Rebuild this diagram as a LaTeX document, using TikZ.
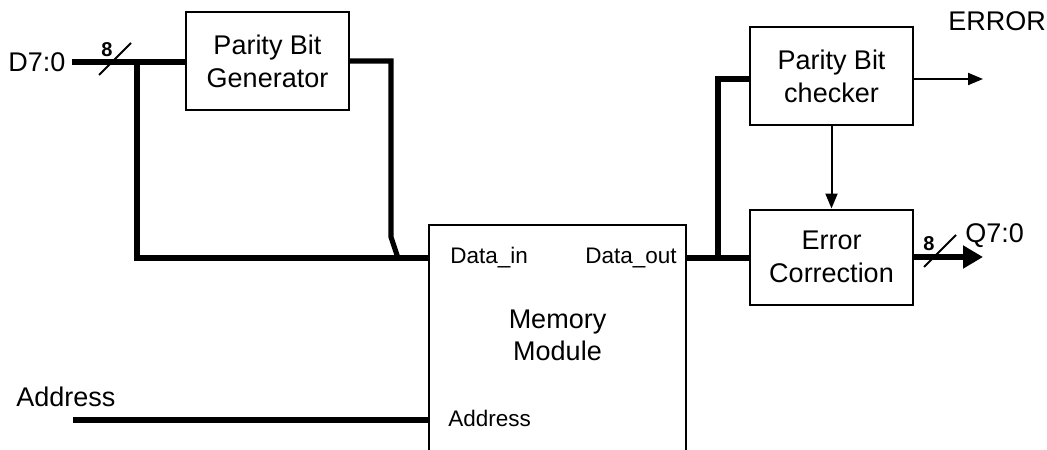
\documentclass[tikz,border=0pt]{standalone}
\usepackage{fontspec}
\setmainfont{Liberation Sans}
\usetikzlibrary{
  arrows.meta,
  positioning,
  calc
}
\tikzset{
  blk/.style={
    draw, line width=1pt, minimum width=81.5pt, minimum height=49pt,
    align=center, font=\fontsize{13.5}{16.5}\selectfont
  },
  membox/.style={draw, line width=1pt, minimum width=128.5pt, minimum height=125pt},
  bus/.style={line width=2.6pt},
  sig/.style={line width=1pt},
  busout/.style={bus, -{Triangle[length=10pt, width=11pt]}},
  sigout/.style={sig, -{Triangle[length=7.5pt, width=6pt]}},
  portlbl/.style={font=\fontsize{11.25}{13}\selectfont, inner sep=0pt},
  extlbl/.style={font=\fontsize{13.5}{16}\selectfont, inner sep=0pt},
  widthlbl/.style={font=\fontsize{10}{11}\selectfont\bfseries, inner sep=0pt}
}

\begin{document}
\begin{tikzpicture}[x=0.5pt, y=-0.5pt]
  \clip (0,0) rectangle (1047,449);
  % blocks
  \node[blk] (gen) at (267.5,61) {Parity Bit\\Generator};
  \node[membox] (mem) at (557.5,350) {};
  \node[extlbl, align=center] (memlbl) at ($(mem.north)+(0,111)$) {Memory\\Module};
  \node[blk] (chk) at (831.5,76) {Parity Bit\\checker};
  \node[blk, minimum height=47.5pt] (ecc) at (831.5,257) {Error\\Correction};
  % ports
  \coordinate (memin) at (429,258);
  \coordinate (memout) at (686,258);
  \coordinate (memadr) at (429,420);
  \node[portlbl, anchor=west] (pin) at (450,258) {Data\_in};
  \node[portlbl, anchor=east] (pout) at (677,258) {Data\_out};
  \node[portlbl, anchor=west] (padr) at (448,418) {Address};
  % outside signals
  \node[extlbl, anchor=west] (dlbl) at (8,62) {D7:0};
  \coordinate (dstart) at (72,62);
  \node[extlbl, anchor=west] (albl) at (16,397) {Address};
  \coordinate (astart) at (73,420);
  \coordinate (errend) at (983,79);
  \node[extlbl, anchor=west] (errlbl) at (948,21) {ERROR};
  \coordinate (qend) at (983,257);
  \node[extlbl, anchor=west] (qlbl) at (965,236) {Q7:0};

  % data in
  \draw[bus] (dstart) -- (gen.west |- dstart);
  \draw[bus] (137,62) -- (137,258) -- (memin);
  \draw[bus] (gen.east |- 0,61) -- (391,61) -- (391,237) -- (398,258);
  \draw[bus] (astart) -- (memadr);
  % data out
  \draw[bus] (memout) -- (ecc.west |- memout);
  \draw[bus] (718,258) -- (718,79) -- (chk.west |- 0,79);
  \draw[sigout] (chk.south) -- (ecc.north);
  \draw[sigout] (chk.east |- errend) -- (errend);
  \draw[busout] (ecc.east |- qend) -- (qend);

  % bus width marks
  \coordinate (w1) at (115,59);
  \draw[sig] ([shift={(-16,16)}]w1) -- ([shift={(16,-16)}]w1);
  \node[widthlbl] at ([shift={(-8,-9)}]w1) {8};
  \coordinate (w2) at (940,251);
  \draw[sig] ([shift={(-16,16)}]w2) -- ([shift={(16,-16)}]w2);
  \node[widthlbl] at ([shift={(-11,-7)}]w2) {8};
\end{tikzpicture}
\end{document}
